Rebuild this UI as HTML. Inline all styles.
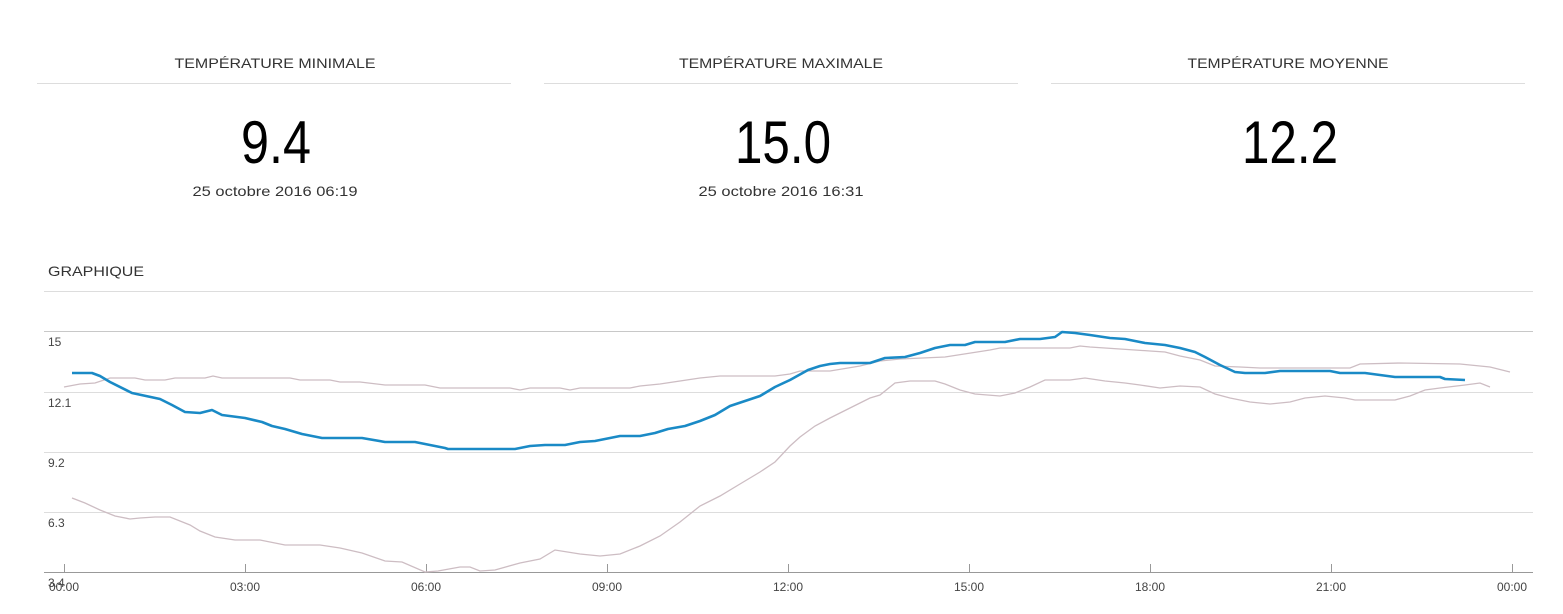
<!DOCTYPE html>
<html><head><meta charset="utf-8"><style>
html,body{margin:0;padding:0;background:#fff;width:1563px;height:614px;overflow:hidden}
svg{display:block}
text{font-family:"Liberation Sans",sans-serif}
</style></head><body>
<svg width="1563" height="614" viewBox="0 0 1563 614" xmlns="http://www.w3.org/2000/svg">
<g fill="#333" font-size="14">
<text x="275" y="68" text-anchor="middle" textLength="201" lengthAdjust="spacingAndGlyphs">TEMPÉRATURE MINIMALE</text>
<text x="781" y="68" text-anchor="middle" textLength="204" lengthAdjust="spacingAndGlyphs">TEMPÉRATURE MAXIMALE</text>
<text x="1288" y="68" text-anchor="middle" textLength="201" lengthAdjust="spacingAndGlyphs">TEMPÉRATURE MOYENNE</text>
</g>
<g stroke="#ddd" stroke-width="1">
<line x1="37" y1="83.5" x2="511" y2="83.5"/>
<line x1="544" y1="83.5" x2="1018" y2="83.5"/>
<line x1="1051" y1="83.5" x2="1525" y2="83.5"/>
<line x1="44" y1="291.5" x2="1533" y2="291.5"/>
</g>
<g fill="#000" font-size="60">
<text x="276" y="163" text-anchor="middle" textLength="70" lengthAdjust="spacingAndGlyphs">9.4</text>
<text x="783" y="163" text-anchor="middle" textLength="96" lengthAdjust="spacingAndGlyphs">15.0</text>
<text x="1290" y="163" text-anchor="middle" textLength="96" lengthAdjust="spacingAndGlyphs">12.2</text>
</g>
<g fill="#333" font-size="14">
<text x="275" y="196" text-anchor="middle" textLength="165" lengthAdjust="spacingAndGlyphs">25 octobre 2016 06:19</text>
<text x="781" y="196" text-anchor="middle" textLength="165" lengthAdjust="spacingAndGlyphs">25 octobre 2016 16:31</text>
<text x="48" y="276" textLength="96" lengthAdjust="spacingAndGlyphs">GRAPHIQUE</text>
</g>
<g stroke="#ddd" stroke-width="1">
<line x1="44" y1="392.5" x2="1533" y2="392.5"/>
<line x1="44" y1="452.5" x2="1533" y2="452.5"/>
<line x1="44" y1="512.5" x2="1533" y2="512.5"/>
</g>
<line x1="44" y1="331.5" x2="1533" y2="331.5" stroke="#c8c8c8"/>
<line x1="44" y1="572.5" x2="1533" y2="572.5" stroke="#999"/>
<g stroke="#999">
<line x1="64.5" y1="564" x2="64.5" y2="572"/><line x1="245.5" y1="564" x2="245.5" y2="572"/>
<line x1="426.5" y1="564" x2="426.5" y2="572"/><line x1="607.5" y1="564" x2="607.5" y2="572"/>
<line x1="788.5" y1="564" x2="788.5" y2="572"/><line x1="969.5" y1="564" x2="969.5" y2="572"/>
<line x1="1150.5" y1="564" x2="1150.5" y2="572"/><line x1="1331.5" y1="564" x2="1331.5" y2="572"/>
<line x1="1512.5" y1="564" x2="1512.5" y2="572"/>
</g>
<g fill="#444" font-size="12">
<text x="48" y="346">15</text><text x="48" y="407">12.1</text><text x="48" y="467">9.2</text><text x="48" y="527">6.3</text><text x="48" y="587">3.4</text>
</g>
<g fill="#444" font-size="12" text-anchor="middle">
<text x="64" y="591">00:00</text><text x="245" y="591">03:00</text><text x="426" y="591">06:00</text><text x="607" y="591">09:00</text><text x="788" y="591">12:00</text><text x="969" y="591">15:00</text><text x="1150" y="591">18:00</text><text x="1331" y="591">21:00</text><text x="1512" y="591">00:00</text>
</g>
<g fill="none" stroke="#cdbdc3" stroke-width="1.3">
<polyline points="64,387 80,384 95,383 110,378 135,378 145,380 165,380 175,378 205,378 213,376 222,378 290,378 300,380 330,380 340,382 360,382 385,385 425,385 440,388 510,388 520,390 530,388 560,388 570,390 580,388 630,388 640,386 660,384 700,378 720,376 775,376 790,374 800,371 830,371 860,366 880,361 900,359 945,357 990,350 1000,348 1070,348 1080,346 1090,347 1120,349 1150,351 1165,352 1180,356 1200,360 1215,366 1240,367 1260,368 1280,368 1350,368 1360,364 1400,363 1460,364 1490,367 1510,372"/>
<polyline points="72,498 85,503 100,510 115,516 130,519 140,518 155,517 170,517 190,525 200,531 215,537 235,540 260,540 285,545 320,545 340,548 362,553 385,561 402,562 425,572 438,571 460,567 470,567 480,571 495,570 520,563 540,559 555,550 580,554 600,556 620,554 640,546 660,536 680,522 700,506 720,496 740,484 760,472 775,462 790,446 800,437 815,426 830,418 850,408 870,398 880,395 895,383 910,381 935,381 945,384 960,390 975,394 1000,396 1015,393 1030,387 1045,380 1070,380 1085,378 1105,381 1125,383 1140,385 1160,388 1180,386 1200,387 1215,394 1230,398 1250,402 1270,404 1290,402 1305,398 1325,396 1345,398 1355,400 1395,400 1410,396 1425,390 1440,388 1465,385 1480,383 1490,387"/>
</g>
<polyline fill="none" stroke="#1a8ac6" stroke-width="2.6" stroke-linejoin="round" points="72,373 92,373 100,376 110,382 132,393 160,399 172,405 185,412 200,413 212,410 222,415 245,418 262,422 272,426 285,429 302,434 322,438 362,438 385,442 415,442 445,448 448,449 515,449 530,446 545,445 565,445 580,442 595,441 620,436 640,436 655,433 668,429 685,426 700,421 715,415 730,406 745,401 760,396 775,387 790,380 808,370 820,366 830,364 840,363 870,363 885,358 905,357 920,353 935,348 950,345 965,345 975,342 1005,342 1020,339 1040,339 1055,337 1062,332 1075,333 1090,335 1110,338 1125,339 1145,343 1165,345 1180,348 1195,352 1205,357 1220,365 1235,372 1245,373 1265,373 1280,371 1330,371 1340,373 1365,373 1380,375 1395,377 1440,377 1445,379 1465,380"/>
</svg>
</body></html>
